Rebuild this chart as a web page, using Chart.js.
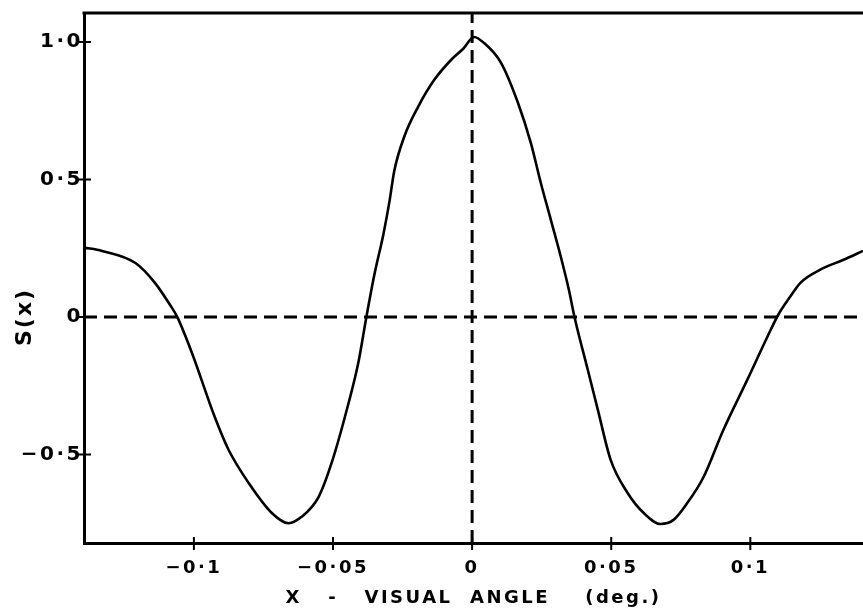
<!DOCTYPE html>
<html>
<head>
<meta charset="utf-8">
<script src="https://cdn.jsdelivr.net/npm/chart.js@4"></script>
<style>
  html, body { margin: 0; padding: 0; background: #fff; }
  #wrap { width: 863px; height: 613px; }
</style>
</head>
<body>
<div id="wrap"><canvas id="sx"></canvas></div>
<script>
'use strict'

// visual angle (deg.) and S(x)
const angleDeg = [
  -0.1395, -0.133, -0.121, -0.114, -0.1086, -0.106, -0.1007, -0.0925, -0.0875,
  -0.0803, -0.072, -0.066, -0.0613, -0.0552, -0.0505, -0.0444, -0.0409, -0.038,
  -0.0351, -0.0319, -0.0297, -0.028, -0.0244, -0.0194, -0.0136, -0.0075, -0.0032,
  0.0007, 0.0043, 0.0104, 0.0165, 0.0211, 0.0247, 0.0283, 0.0319, 0.0348, 0.0368,
  0.0416, 0.0452, 0.0498, 0.0559, 0.0617, 0.0677, 0.0724, 0.0774, 0.0832, 0.0903,
  0.0989, 0.1061, 0.11, 0.1143, 0.118, 0.125, 0.1333, 0.1405
]
const sOfX = [
  0.252, 0.24, 0.196, 0.124, 0.044, 0, -0.131, -0.364, -0.484,
  -0.604, -0.713, -0.75, -0.727, -0.655, -0.531, -0.313, -0.167, 0,
  0.155, 0.3, 0.42, 0.53, 0.655, 0.764, 0.862, 0.935, 0.975,
  1.018, 0.996, 0.924, 0.778, 0.633, 0.487, 0.353, 0.218, 0.098, 0,
  -0.193, -0.338, -0.52, -0.64, -0.713, -0.753, -0.738, -0.676, -0.582, -0.411,
  -0.229, -0.073, 0.007, 0.073, 0.124, 0.171, 0.207, 0.24
]

const xRange = [-0.1395, 0.1405]
const yRange = [-0.822, 1.105]

const xTicks = [-0.1, -0.05, 0, 0.05, 0.1]
const xTickLabels = ['\u22120\u00b71', '\u22120\u00b705', '0', '0\u00b705', '0\u00b71']
const yTicks = [-0.5, 0, 0.5, 1.0]
const yTickLabels = ['\u22120\u00b75', '0', '0\u00b75', '1\u00b70']

const FONT = 'DejaVu Sans'

// top border, ticks crossing the axes, rotated S(x) label
const framePlugin = {
  id: 'frame',
  beforeDraw(chart) {
    chart.ctx.letterSpacing = '2.5px'
  },
  afterDraw(chart) {
    const { ctx, chartArea: a, scales } = chart
    ctx.save()
    ctx.letterSpacing = '0px'
    ctx.strokeStyle = '#000'
    ctx.lineWidth = 3
    ctx.beginPath()
    ctx.moveTo(a.left - 1.5, a.top)
    ctx.lineTo(a.right, a.top)
    ctx.stroke()

    ctx.lineWidth = 2
    ctx.beginPath()
    xTicks.forEach((v) => {
      const px = scales.x.getPixelForValue(v)
      ctx.moveTo(px, a.bottom - 6)
      ctx.lineTo(px, a.bottom + 7)
    })
    yTicks.forEach((v) => {
      const py = scales.y.getPixelForValue(v)
      ctx.moveTo(a.left - 6, py)
      ctx.lineTo(a.left + 7, py)
    })
    ctx.stroke()

    ctx.translate(25, scales.y.getPixelForValue(0))
    ctx.rotate(-Math.PI / 2)
    ctx.letterSpacing = '2px'
    ctx.font = `bold 22px "${FONT}"`
    ctx.fillStyle = '#000'
    ctx.textAlign = 'center'
    ctx.textBaseline = 'middle'
    ctx.fillText('S(x)', 0, 0)
    ctx.restore()
  }
}

new Chart(document.getElementById('sx'), {
  type: 'scatter',
  data: {
    datasets: [
      {
        data: angleDeg.map((x, i) => ({ x, y: sOfX[i] })),
        showLine: true,
        borderColor: '#000',
        borderWidth: 2.6,
        cubicInterpolationMode: 'monotone',
        pointRadius: 0
      },
      {
        data: xRange.map((x) => ({ x, y: 0 })),
        showLine: true,
        borderColor: '#000',
        borderWidth: 3,
        borderDash: [13, 7],
        pointRadius: 0
      },
      {
        data: yRange.map((y) => ({ x: 0, y })),
        showLine: true,
        borderColor: '#000',
        borderWidth: 3,
        borderDash: [13, 7],
        pointRadius: 0
      }
    ]
  },
  options: {
    responsive: true,
    maintainAspectRatio: false,
    animation: false,
    layout: { padding: { top: 13, left: 0, right: 0, bottom: 0 } },
    scales: {
      x: {
        type: 'linear',
        min: xRange[0],
        max: xRange[1],
        afterBuildTicks(scale) {
          scale.ticks = xTicks.map((value) => ({ value }))
        },
        afterFit(scale) {
          scale.height = 70
        },
        grid: { display: false, drawTicks: false },
        border: { display: true, color: '#000', width: 3 },
        ticks: {
          color: '#000',
          padding: 15,
          maxRotation: 0,
          autoSkip: false,
          font: { family: FONT, size: 18, weight: 'bold' },
          callback: (v) => xTickLabels[xTicks.indexOf(v)]
        },
        title: {
          display: true,
          text: 'X   -   VISUAL  ANGLE    (deg.)',
          color: '#000',
          font: { family: FONT, size: 18, weight: 'bold' },
          padding: { top: 0, bottom: 4 }
        }
      },
      y: {
        type: 'linear',
        min: yRange[0],
        max: yRange[1],
        afterBuildTicks(scale) {
          scale.ticks = yTicks.map((value) => ({ value }))
        },
        afterFit(scale) {
          scale.width = 84
        },
        grid: { display: false, drawTicks: false },
        border: { display: true, color: '#000', width: 3 },
        ticks: {
          color: '#000',
          padding: 1,
          autoSkip: false,
          font: { family: FONT, size: 20, weight: 'bold' },
          callback: (v) => yTickLabels[yTicks.indexOf(v)]
        }
      }
    },
    plugins: {
      legend: { display: false },
      tooltip: { enabled: false }
    }
  },
  plugins: [framePlugin]
})
</script>
</body>
</html>
